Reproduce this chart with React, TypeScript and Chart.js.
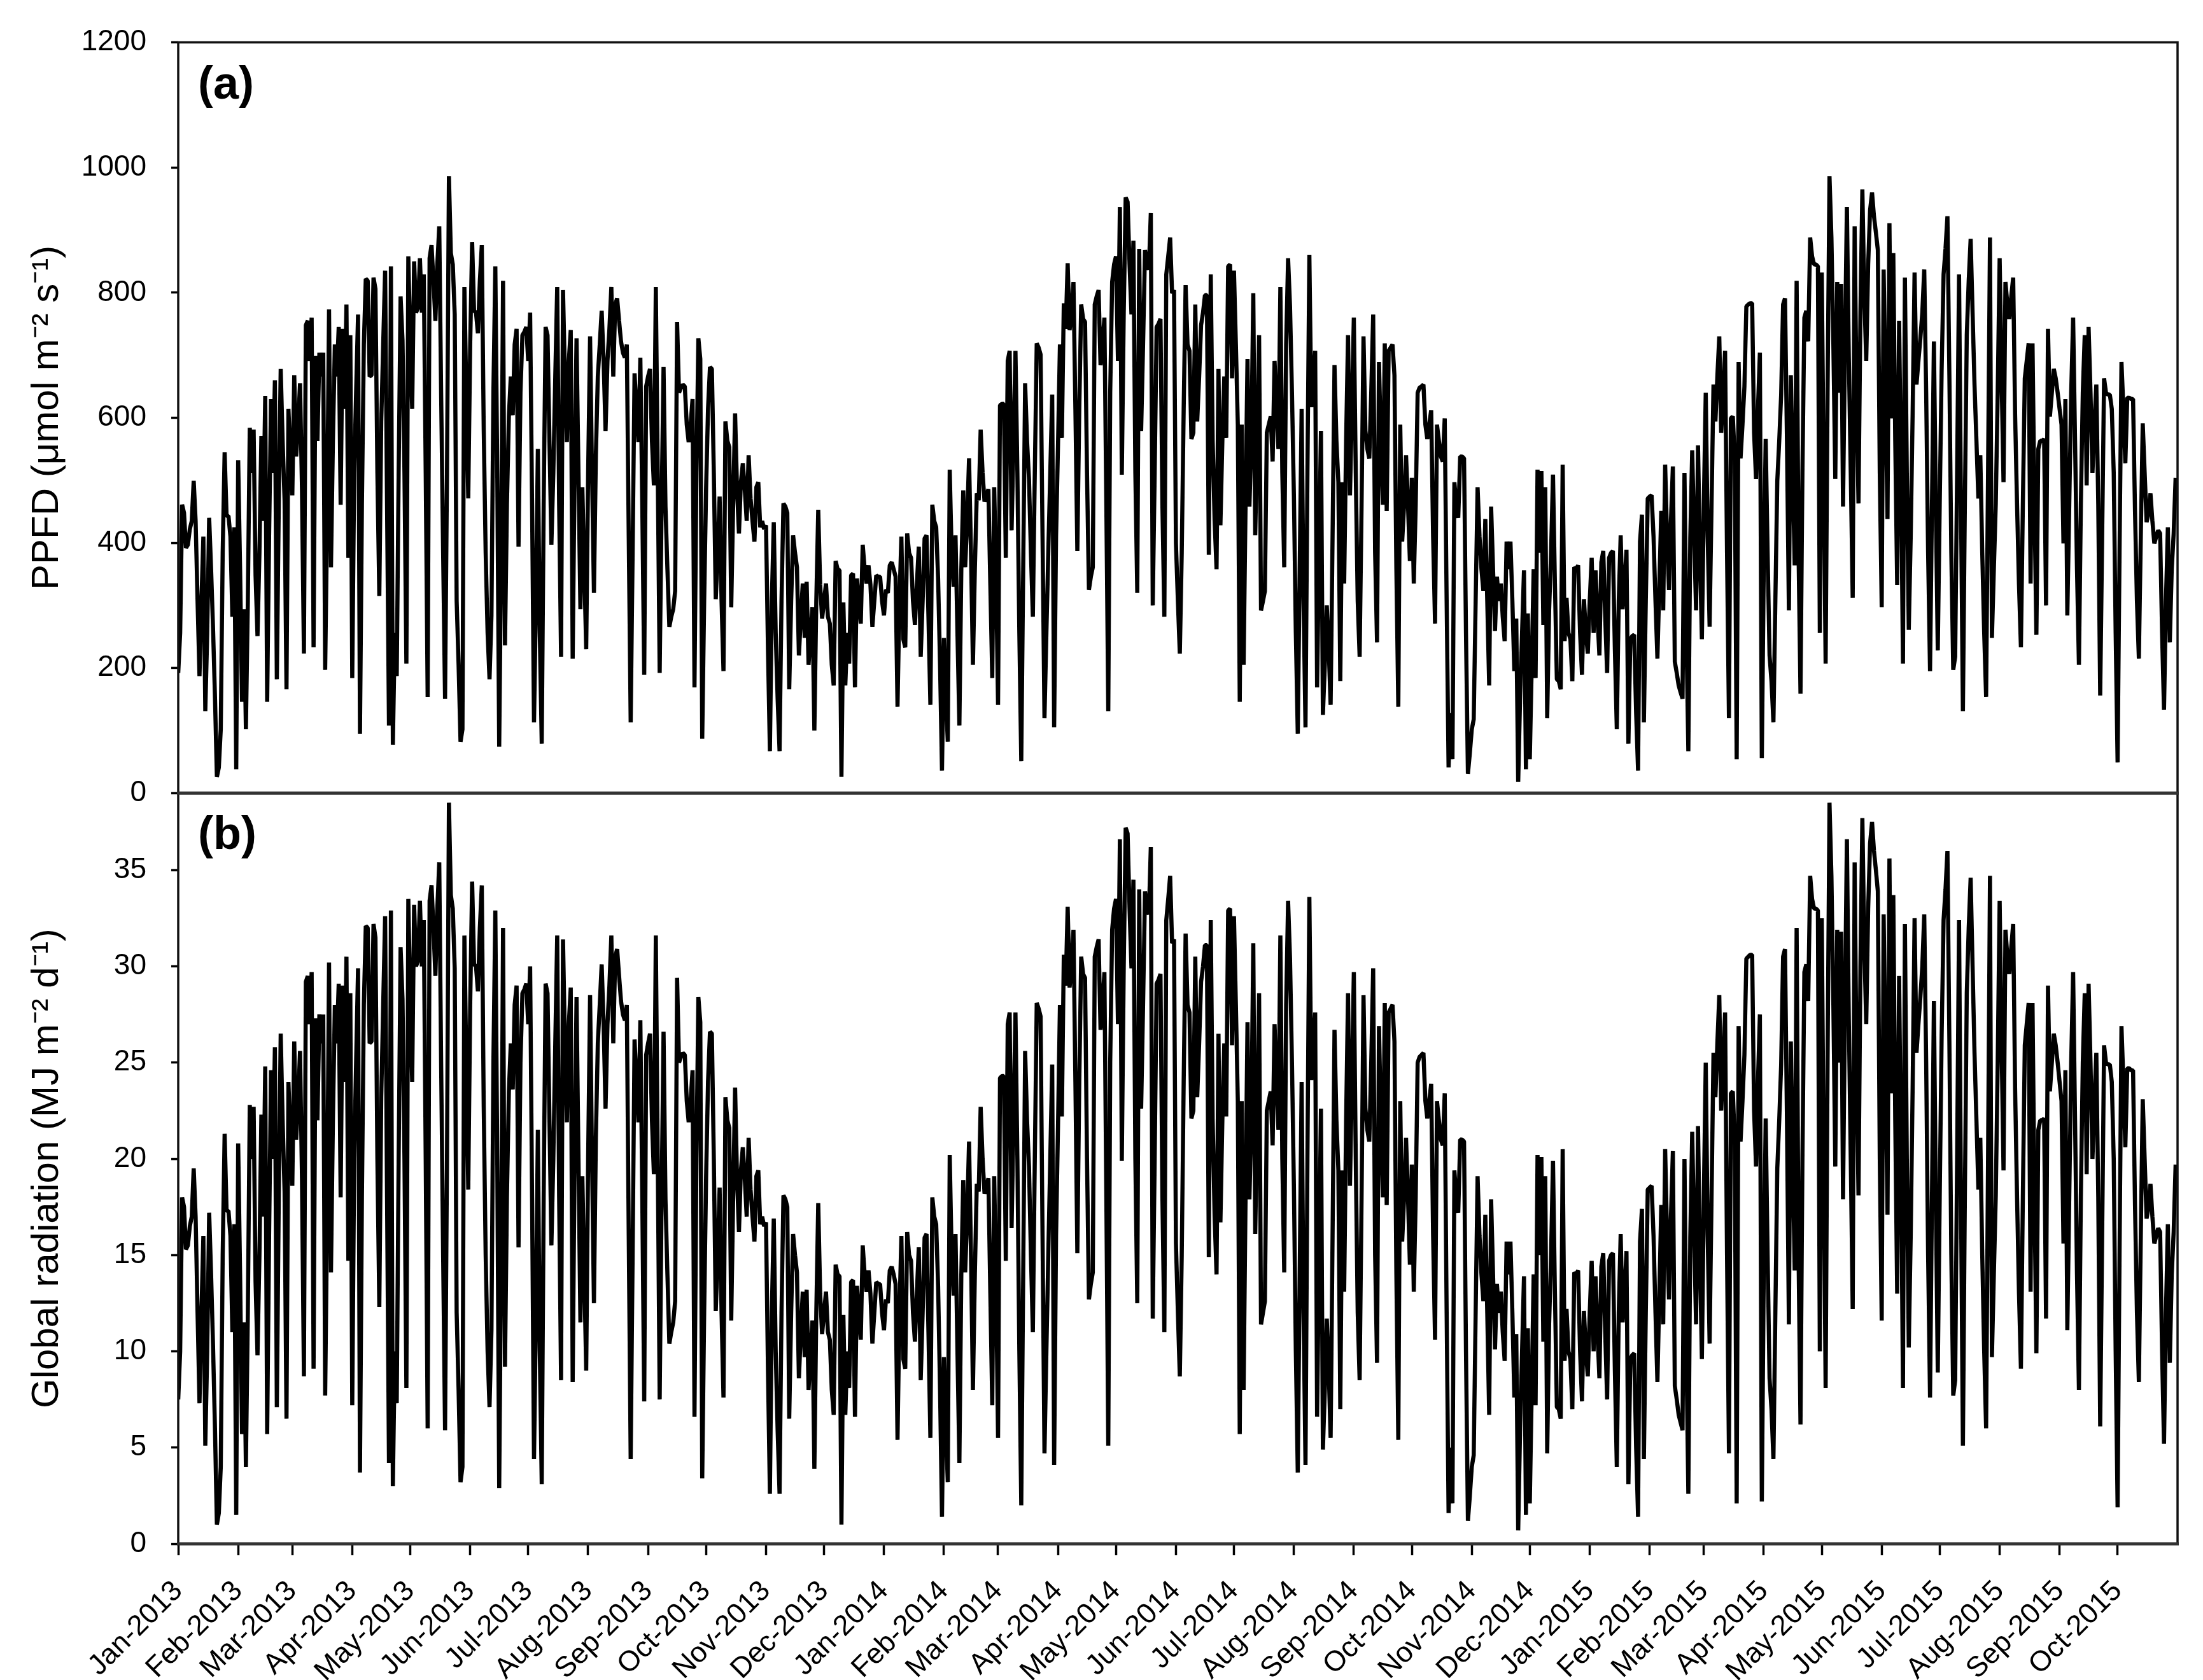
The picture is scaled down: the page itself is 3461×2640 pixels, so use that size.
import React, { useEffect, useRef } from 'react';
import { Chart, registerables } from 'chart.js';

Chart.register(...registerables);

// Month tick positions (day index from 1 Jan 2013) and their labels
const monthTickDays = [
  0, 31, 59, 90, 120, 151, 181, 212, 243, 273, 304, 334,
  365, 396, 424, 455, 485, 516, 546, 577, 608, 638, 669, 699,
  730, 761, 789, 820, 850, 881, 911, 942, 973, 1003,
];
const monthTickLabels = [
  'Jan-2013', 'Feb-2013', 'Mar-2013', 'Apr-2013', 'May-2013', 'Jun-2013', 'Jul-2013', 'Aug-2013', 'Sep-2013', 'Oct-2013', 'Nov-2013', 'Dec-2013',
  'Jan-2014', 'Feb-2014', 'Mar-2014', 'Apr-2014', 'May-2014', 'Jun-2014', 'Jul-2014', 'Aug-2014', 'Sep-2014', 'Oct-2014', 'Nov-2014', 'Dec-2014',
  'Jan-2015', 'Feb-2015', 'Mar-2015', 'Apr-2015', 'May-2015', 'Jun-2015', 'Jul-2015', 'Aug-2015', 'Sep-2015', 'Oct-2015',
];
const xAxisEnd = 1034;

const ppfdTicks = [0, 200, 400, 600, 800, 1000, 1200];
const grTicks = [0, 5, 10, 15, 20, 25, 30, 35];
const ppfdMax = 1200;
const grMax = 39;

const panelLabels = ['(a)', '(b)'];
const ppfdTitle = 'PPFD (μmol m⁻² s⁻¹)';
const grTitle = 'Global radiation (MJ m⁻² d⁻¹)';

// Daily mean PPFD (µmol m-2 s-1), 1 Jan 2013 – 31 Oct 2015
const ppfd = [
  192, 256, 461, 448, 392, 397, 422, 435, 499, 435,
  307, 187, 307, 410, 131, 256, 440, 358, 264, 154,
  26, 41, 102, 384, 545, 443, 443, 410, 282, 425,
  38, 532, 358, 146, 294, 102, 307, 584, 512, 581,
  348, 251, 384, 571, 435, 635, 146, 410, 630, 512,
  660, 182, 461, 678, 563, 468, 166, 614, 538, 476,
  668, 538, 589, 655, 486, 223, 748, 755, 691, 760,
  233, 699, 563, 704, 666, 704, 197, 438, 773, 361,
  563, 717, 666, 745, 461, 742, 614, 781, 376, 732,
  184, 512, 640, 765, 95, 461, 717, 822, 819, 666,
  668, 824, 806, 512, 315, 594, 717, 835, 461, 108,
  842, 77, 256, 187, 512, 794, 724, 512, 207, 858,
  717, 614, 850, 768, 776, 855, 768, 829, 512, 154,
  855, 876, 819, 755, 845, 906, 632, 384, 151, 512,
  986, 863, 845, 765, 307, 205, 82, 102, 809, 640,
  471, 717, 881, 771, 768, 735, 819, 876, 581, 384,
  256, 182, 284, 640, 842, 512, 74, 384, 819, 236,
  461, 602, 666, 604, 717, 742, 394, 640, 732, 737,
  745, 691, 768, 461, 113, 307, 550, 256, 79, 461,
  745, 732, 563, 397, 512, 666, 809, 461, 218, 804,
  666, 561, 691, 740, 215, 512, 727, 512, 294, 489,
  358, 230, 512, 730, 512, 320, 540, 666, 717, 771,
  691, 579, 691, 742, 809, 666, 781, 791, 755, 722,
  704, 696, 717, 410, 113, 384, 671, 614, 561, 696,
  461, 189, 650, 666, 678, 563, 492, 809, 512, 192,
  461, 681, 458, 358, 266, 282, 294, 323, 753, 640,
  648, 653, 650, 589, 561, 589, 630, 169, 512, 727,
  694, 87, 307, 486, 614, 681, 678, 512, 310, 384,
  474, 307, 195, 594, 563, 553, 297, 461, 607, 486,
  415, 497, 527, 486, 435, 540, 471, 435, 402, 489,
  497, 425, 435, 422, 428, 230, 67, 307, 433, 256,
  151, 67, 307, 463, 458, 448, 166, 307, 412, 384,
  361, 220, 282, 335, 248, 338, 205, 256, 297, 100,
  307, 453, 333, 279, 307, 335, 282, 271, 205, 172,
  371, 358, 356, 26, 305, 172, 256, 207, 348, 351,
  169, 343, 307, 271, 397, 358, 335, 364, 333, 266,
  307, 348, 346, 346, 307, 284, 325, 320, 364, 369,
  358, 346, 138, 307, 410, 246, 233, 415, 384, 376,
  307, 269, 333, 394, 218, 307, 407, 412, 282, 141,
  461, 435, 425, 343, 205, 36, 248, 154, 82, 517,
  384, 330, 412, 256, 108, 358, 484, 361, 435, 535,
  384, 205, 358, 479, 468, 581, 512, 466, 474, 486,
  333, 184, 489, 346, 141, 620, 622, 622, 376, 691,
  707, 420, 563, 707, 512, 256, 51, 358, 655, 563,
  502, 384, 282, 512, 719, 712, 701, 410, 120, 256,
  387, 512, 637, 105, 410, 556, 717, 568, 783, 742,
  847, 740, 768, 817, 614, 387, 614, 781, 758, 753,
  512, 325, 346, 361, 781, 794, 804, 684, 717, 760,
  461, 131, 640, 817, 845, 858, 691, 937, 509, 768,
  952, 945, 845, 765, 883, 512, 320, 870, 579, 717,
  868, 845, 837, 927, 300, 512, 745, 750, 758, 461,
  282, 829, 858, 888, 799, 804, 399, 307, 223, 384,
  614, 812, 717, 707, 566, 576, 781, 594, 666, 748,
  768, 796, 796, 381, 829, 563, 435, 358, 678, 428,
  563, 666, 568, 842, 845, 663, 835, 717, 589, 146,
  589, 205, 461, 694, 458, 563, 799, 412, 563, 732,
  292, 307, 323, 576, 589, 602, 530, 691, 614, 550,
  809, 512, 361, 717, 855, 778, 640, 476, 256, 95,
  358, 614, 307, 105, 512, 860, 617, 666, 707, 169,
  384, 579, 125, 205, 300, 230, 141, 410, 684, 563,
  497, 179, 497, 335, 563, 732, 476, 614, 760, 512,
  307, 218, 461, 730, 579, 550, 535, 640, 765, 384,
  241, 689, 563, 461, 719, 451, 707, 712, 717, 668,
  358, 138, 589, 402, 461, 540, 461, 371, 504, 335,
  461, 640, 648, 650, 653, 589, 566, 589, 612, 410,
  271, 589, 563, 538, 530, 599, 307, 41, 128, 54,
  497, 461, 440, 538, 538, 535, 256, 31, 64, 102,
  118, 307, 489, 410, 358, 323, 438, 307, 172, 458,
  358, 259, 346, 307, 335, 282, 243, 402, 358, 402,
  307, 195, 279, 18, 154, 256, 356, 38, 287, 54,
  205, 358, 184, 517, 384, 515, 269, 489, 120, 292,
  384, 509, 333, 182, 179, 166, 525, 243, 312, 256,
  246, 179, 361, 358, 364, 256, 189, 310, 256, 223,
  307, 376, 256, 356, 282, 220, 369, 387, 282, 192,
  376, 384, 387, 230, 102, 307, 412, 294, 333, 389,
  79, 246, 251, 253, 128, 36, 402, 445, 113, 307,
  471, 474, 476, 410, 307, 215, 333, 451, 292, 525,
  410, 325, 435, 522, 210, 192, 172, 161, 151, 512,
  256, 67, 407, 548, 410, 292, 556, 384, 246, 461,
  640, 410, 266, 461, 653, 594, 666, 730, 576, 640,
  707, 384, 120, 599, 602, 535, 54, 689, 535, 589,
  650, 778, 781, 783, 783, 576, 502, 614, 704, 56,
  358, 566, 384, 220, 179, 113, 307, 499, 563, 637,
  781, 791, 563, 292, 668, 512, 364, 819, 384, 159,
  512, 760, 771, 722, 888, 858, 845, 845, 842, 256,
  832, 512, 207, 640, 986, 888, 717, 502, 817, 640,
  814, 458, 717, 937, 696, 512, 312, 906, 640, 463,
  768, 965, 796, 691, 845, 932, 960, 922, 896, 868,
  512, 297, 837, 640, 438, 911, 599, 863, 563, 333,
  755, 512, 207, 824, 512, 261, 410, 607, 832, 653,
  691, 727, 768, 837, 640, 384, 195, 461, 722, 461,
  228, 461, 676, 829, 870, 922, 668, 384, 197, 218,
  512, 829, 461, 131, 461, 732, 819, 886, 768, 653,
  563, 471, 540, 384, 256, 154, 512, 888, 248, 358,
  463, 640, 855, 666, 497, 817, 781, 758, 794, 824,
  604, 461, 333, 233, 461, 663, 691, 719, 335, 719,
  461, 253, 550, 563, 563, 566, 300, 742, 602, 640,
  678, 663, 640, 614, 589, 399, 630, 284, 461, 640,
  760, 563, 358, 205, 461, 640, 732, 492, 745, 640,
  512, 589, 653, 461, 156, 407, 663, 640, 637, 637,
  614, 512, 256, 49, 384, 689, 614, 527, 632, 632,
  630, 630, 451, 307, 215, 410, 591, 512, 433, 448,
  479, 435, 399, 410, 420, 415, 256, 133, 307, 425,
  241, 358, 415, 504,
];

// Daily global radiation (MJ m-2 d-1), 1 Jan 2013 – 31 Oct 2015
const globalRadiation = [
  7.5, 10, 18, 17.5, 15.3, 15.5, 16.5, 17, 19.5, 17,
  12, 7.3, 12, 16, 5.1, 10, 17.2, 14, 10.3, 6,
  1, 1.6, 4, 15, 21.3, 17.3, 17.3, 16, 11, 16.6,
  1.5, 20.8, 14, 5.7, 11.5, 4, 12, 22.8, 20, 22.7,
  13.6, 9.8, 15, 22.3, 17, 24.8, 5.7, 16, 24.6, 20,
  25.8, 7.1, 18, 26.5, 22, 18.3, 6.5, 24, 21, 18.6,
  26.1, 21, 23, 25.6, 19, 8.7, 29.2, 29.5, 27, 29.7,
  9.1, 27.3, 22, 27.5, 26, 27.5, 7.7, 17.1, 30.2, 14.1,
  22, 28, 26, 29.1, 18, 29, 24, 30.5, 14.7, 28.6,
  7.2, 20, 25, 29.9, 3.7, 18, 28, 32.1, 32, 26,
  26.1, 32.2, 31.5, 20, 12.3, 23.2, 28, 32.6, 18, 4.2,
  32.9, 3, 10, 7.3, 20, 31, 28.3, 20, 8.1, 33.5,
  28, 24, 33.2, 30, 30.3, 33.4, 30, 32.4, 20, 6,
  33.4, 34.2, 32, 29.5, 33, 35.4, 24.7, 15, 5.9, 20,
  38.5, 33.7, 33, 29.9, 12, 8, 3.2, 4, 31.6, 25,
  18.4, 28, 34.4, 30.1, 30, 28.7, 32, 34.2, 22.7, 15,
  10, 7.1, 11.1, 25, 32.9, 20, 2.9, 15, 32, 9.2,
  18, 23.5, 26, 23.6, 28, 29, 15.4, 25, 28.6, 28.8,
  29.1, 27, 30, 18, 4.4, 12, 21.5, 10, 3.1, 18,
  29.1, 28.6, 22, 15.5, 20, 26, 31.6, 18, 8.5, 31.4,
  26, 21.9, 27, 28.9, 8.4, 20, 28.4, 20, 11.5, 19.1,
  14, 9, 20, 28.5, 20, 12.5, 21.1, 26, 28, 30.1,
  27, 22.6, 27, 29, 31.6, 26, 30.5, 30.9, 29.5, 28.2,
  27.5, 27.2, 28, 16, 4.4, 15, 26.2, 24, 21.9, 27.2,
  18, 7.4, 25.4, 26, 26.5, 22, 19.2, 31.6, 20, 7.5,
  18, 26.6, 17.9, 14, 10.4, 11, 11.5, 12.6, 29.4, 25,
  25.3, 25.5, 25.4, 23, 21.9, 23, 24.6, 6.6, 20, 28.4,
  27.1, 3.4, 12, 19, 24, 26.6, 26.5, 20, 12.1, 15,
  18.5, 12, 7.6, 23.2, 22, 21.6, 11.6, 18, 23.7, 19,
  16.2, 19.4, 20.6, 19, 17, 21.1, 18.4, 17, 15.7, 19.1,
  19.4, 16.6, 17, 16.5, 16.7, 9, 2.6, 12, 16.9, 10,
  5.9, 2.6, 12, 18.1, 17.9, 17.5, 6.5, 12, 16.1, 15,
  14.1, 8.6, 11, 13.1, 9.7, 13.2, 8, 10, 11.6, 3.9,
  12, 17.7, 13, 10.9, 12, 13.1, 11, 10.6, 8, 6.7,
  14.5, 14, 13.9, 1, 11.9, 6.7, 10, 8.1, 13.6, 13.7,
  6.6, 13.4, 12, 10.6, 15.5, 14, 13.1, 14.2, 13, 10.4,
  12, 13.6, 13.5, 13.5, 12, 11.1, 12.7, 12.5, 14.2, 14.4,
  14, 13.5, 5.4, 12, 16, 9.6, 9.1, 16.2, 15, 14.7,
  12, 10.5, 13, 15.4, 8.5, 12, 15.9, 16.1, 11, 5.5,
  18, 17, 16.6, 13.4, 8, 1.4, 9.7, 6, 3.2, 20.2,
  15, 12.9, 16.1, 10, 4.2, 14, 18.9, 14.1, 17, 20.9,
  15, 8, 14, 18.7, 18.3, 22.7, 20, 18.2, 18.5, 19,
  13, 7.2, 19.1, 13.5, 5.5, 24.2, 24.3, 24.3, 14.7, 27,
  27.6, 16.4, 22, 27.6, 20, 10, 2, 14, 25.6, 22,
  19.6, 15, 11, 20, 28.1, 27.8, 27.4, 16, 4.7, 10,
  15.1, 20, 24.9, 4.1, 16, 21.7, 28, 22.2, 30.6, 29,
  33.1, 28.9, 30, 31.9, 24, 15.1, 24, 30.5, 29.6, 29.4,
  20, 12.7, 13.5, 14.1, 30.5, 31, 31.4, 26.7, 28, 29.7,
  18, 5.1, 25, 31.9, 33, 33.5, 27, 36.6, 19.9, 30,
  37.2, 36.9, 33, 29.9, 34.5, 20, 12.5, 34, 22.6, 28,
  33.9, 33, 32.7, 36.2, 11.7, 20, 29.1, 29.3, 29.6, 18,
  11, 32.4, 33.5, 34.7, 31.2, 31.4, 15.6, 12, 8.7, 15,
  24, 31.7, 28, 27.6, 22.1, 22.5, 30.5, 23.2, 26, 29.2,
  30, 31.1, 31.1, 14.9, 32.4, 22, 17, 14, 26.5, 16.7,
  22, 26, 22.2, 32.9, 33, 25.9, 32.6, 28, 23, 5.7,
  23, 8, 18, 27.1, 17.9, 22, 31.2, 16.1, 22, 28.6,
  11.4, 12, 12.6, 22.5, 23, 23.5, 20.7, 27, 24, 21.5,
  31.6, 20, 14.1, 28, 33.4, 30.4, 25, 18.6, 10, 3.7,
  14, 24, 12, 4.1, 20, 33.6, 24.1, 26, 27.6, 6.6,
  15, 22.6, 4.9, 8, 11.7, 9, 5.5, 16, 26.7, 22,
  19.4, 7, 19.4, 13.1, 22, 28.6, 18.6, 24, 29.7, 20,
  12, 8.5, 18, 28.5, 22.6, 21.5, 20.9, 25, 29.9, 15,
  9.4, 26.9, 22, 18, 28.1, 17.6, 27.6, 27.8, 28, 26.1,
  14, 5.4, 23, 15.7, 18, 21.1, 18, 14.5, 19.7, 13.1,
  18, 25, 25.3, 25.4, 25.5, 23, 22.1, 23, 23.9, 16,
  10.6, 23, 22, 21, 20.7, 23.4, 12, 1.6, 5, 2.1,
  19.4, 18, 17.2, 21, 21, 20.9, 10, 1.2, 2.5, 4,
  4.6, 12, 19.1, 16, 14, 12.6, 17.1, 12, 6.7, 17.9,
  14, 10.1, 13.5, 12, 13.1, 11, 9.5, 15.7, 14, 15.7,
  12, 7.6, 10.9, 0.7, 6, 10, 13.9, 1.5, 11.2, 2.1,
  8, 14, 7.2, 20.2, 15, 20.1, 10.5, 19.1, 4.7, 11.4,
  15, 19.9, 13, 7.1, 7, 6.5, 20.5, 9.5, 12.2, 10,
  9.6, 7, 14.1, 14, 14.2, 10, 7.4, 12.1, 10, 8.7,
  12, 14.7, 10, 13.9, 11, 8.6, 14.4, 15.1, 11, 7.5,
  14.7, 15, 15.1, 9, 4, 12, 16.1, 11.5, 13, 15.2,
  3.1, 9.6, 9.8, 9.9, 5, 1.4, 15.7, 17.4, 4.4, 12,
  18.4, 18.5, 18.6, 16, 12, 8.4, 13, 17.6, 11.4, 20.5,
  16, 12.7, 17, 20.4, 8.2, 7.5, 6.7, 6.3, 5.9, 20,
  10, 2.6, 15.9, 21.4, 16, 11.4, 21.7, 15, 9.6, 18,
  25, 16, 10.4, 18, 25.5, 23.2, 26, 28.5, 22.5, 25,
  27.6, 15, 4.7, 23.4, 23.5, 20.9, 2.1, 26.9, 20.9, 23,
  25.4, 30.4, 30.5, 30.6, 30.6, 22.5, 19.6, 24, 27.5, 2.2,
  14, 22.1, 15, 8.6, 7, 4.4, 12, 19.5, 22, 24.9,
  30.5, 30.9, 22, 11.4, 26.1, 20, 14.2, 32, 15, 6.2,
  20, 29.7, 30.1, 28.2, 34.7, 33.5, 33, 33, 32.9, 10,
  32.5, 20, 8.1, 25, 38.5, 34.7, 28, 19.6, 31.9, 25,
  31.8, 17.9, 28, 36.6, 27.2, 20, 12.2, 35.4, 25, 18.1,
  30, 37.7, 31.1, 27, 33, 36.4, 37.5, 36, 35, 33.9,
  20, 11.6, 32.7, 25, 17.1, 35.6, 23.4, 33.7, 22, 13,
  29.5, 20, 8.1, 32.2, 20, 10.2, 16, 23.7, 32.5, 25.5,
  27, 28.4, 30, 32.7, 25, 15, 7.6, 18, 28.2, 18,
  8.9, 18, 26.4, 32.4, 34, 36, 26.1, 15, 7.7, 8.5,
  20, 32.4, 18, 5.1, 18, 28.6, 32, 34.6, 30, 25.5,
  22, 18.4, 21.1, 15, 10, 6, 20, 34.7, 9.7, 14,
  18.1, 25, 33.4, 26, 19.4, 31.9, 30.5, 29.6, 31, 32.2,
  23.6, 18, 13, 9.1, 18, 25.9, 27, 28.1, 13.1, 28.1,
  18, 9.9, 21.5, 22, 22, 22.1, 11.7, 29, 23.5, 25,
  26.5, 25.9, 25, 24, 23, 15.6, 24.6, 11.1, 18, 25,
  29.7, 22, 14, 8, 18, 25, 28.6, 19.2, 29.1, 25,
  20, 23, 25.5, 18, 6.1, 15.9, 25.9, 25, 24.9, 24.9,
  24, 20, 10, 1.9, 15, 26.9, 24, 20.6, 24.7, 24.7,
  24.6, 24.6, 17.6, 12, 8.4, 16, 23.1, 20, 16.9, 17.5,
  18.7, 17, 15.6, 16, 16.4, 16.2, 10, 5.2, 12, 16.6,
  9.4, 14, 16.2, 19.7,
];

const FONT = '"Liberation Sans", Arial, Helvetica, sans-serif';
const W = 3461;
const H = 2640;

export default function App() {
  const ref = useRef<HTMLCanvasElement>(null);

  useEffect(() => {
    const canvas = ref.current;
    if (!canvas) return;

    const framePlugin = {
      id: 'panelFrames',
      afterDraw(chart: any) {
        const { ctx, chartArea } = chart;
        const a = chart.scales.yA;
        const b = chart.scales.yB;
        const left = chartArea.left;
        const right = chartArea.right;
        ctx.save();
        ctx.strokeStyle = '#111';
        ctx.lineWidth = 3.5;
        ctx.strokeRect(left, a.top, right - left, a.bottom - a.top);
        ctx.strokeRect(left, b.top, right - left, b.bottom - b.top);
        ctx.strokeStyle = '#333';
        ctx.lineWidth = 5;
        ctx.beginPath();
        ctx.moveTo(left - 2, a.bottom);
        ctx.lineTo(right + 2, a.bottom);
        ctx.moveTo(left - 2, b.bottom);
        ctx.lineTo(right + 2, b.bottom);
        ctx.stroke();
        ctx.fillStyle = '#000';
        ctx.font = `bold 72px ${FONT}`;
        ctx.textBaseline = 'alphabetic';
        ctx.textAlign = 'left';
        ctx.fillText(panelLabels[0], left + 31, a.top + 88);
        ctx.fillText(panelLabels[1], left + 31, b.top + 88);
        ctx.restore();
      },
    };

    const lineStyle = {
      borderColor: '#000',
      borderWidth: 6.5,
      pointRadius: 0,
      tension: 0,
      fill: false,
      borderJoinStyle: 'bevel' as const,
      borderCapStyle: 'butt' as const,
    };

    const yGrid = {
      display: true,
      drawOnChartArea: false,
      drawTicks: true,
      tickLength: 11,
      tickWidth: 3.5,
      tickColor: '#000',
      color: '#000',
    };

    const chart = new Chart(canvas, {
      type: 'line',
      data: {
        datasets: [
          {
            label: 'PPFD',
            data: ppfd.map((y, i) => ({ x: i, y })),
            yAxisID: 'yA',
            xAxisID: 'x',
            ...lineStyle,
          },
          {
            label: 'Global radiation',
            data: globalRadiation.map((y, i) => ({ x: i, y })),
            yAxisID: 'yB',
            xAxisID: 'x',
            ...lineStyle,
          },
        ],
      },
      options: {
        responsive: false,
        maintainAspectRatio: false,
        animation: false,
        devicePixelRatio: 1,
        layout: { padding: { top: 62, right: 40, bottom: 0, left: 0 } },
        plugins: {
          legend: { display: false },
          tooltip: { enabled: false },
          title: { display: false },
        },
        scales: {
          x: {
            type: 'linear',
            position: 'bottom',
            min: 0,
            max: xAxisEnd,
            afterBuildTicks: (s: any) => {
              s.ticks = monthTickDays.map((v) => ({ value: v }));
            },
            afterFit: (s: any) => {
              s.height = H - 2426;
            },
            grid: {
              display: true,
              drawOnChartArea: false,
              drawTicks: true,
              tickLength: 18,
              tickWidth: 3.5,
              tickColor: '#000',
              color: '#000',
            },
            border: { display: false },
            ticks: {
              autoSkip: false,
              minRotation: 45,
              maxRotation: 45,
              padding: 30,
              color: '#000',
              font: { family: FONT, size: 45 },
              callback: (v: any) => {
                const i = monthTickDays.indexOf(Number(v));
                return i >= 0 ? monthTickLabels[i] : '';
              },
            },
          },
          yB: {
            type: 'linear',
            position: 'left',
            stack: 'panels',
            stackWeight: 1,
            weight: 0,
            min: 0,
            max: grMax,
            afterBuildTicks: (s: any) => {
              s.ticks = grTicks.map((v) => ({ value: v }));
            },
            afterFit: (s: any) => {
              s.width = 280;
            },
            grid: yGrid,
            border: { display: false },
            ticks: {
              padding: 39,
              color: '#000',
              font: { family: FONT, size: 46 },
              callback: (v: any) => String(v),
            },
            title: {
              display: true,
              text: grTitle,
              color: '#000',
              font: { family: FONT, size: 60 },
              padding: { top: 38, bottom: 0 },
            },
          },
          yA: {
            type: 'linear',
            position: 'left',
            stack: 'panels',
            stackWeight: 1,
            weight: 1,
            min: 0,
            max: ppfdMax,
            afterBuildTicks: (s: any) => {
              s.ticks = ppfdTicks.map((v) => ({ value: v }));
            },
            afterFit: (s: any) => {
              s.width = 280;
            },
            grid: yGrid,
            border: { display: false },
            ticks: {
              padding: 39,
              color: '#000',
              font: { family: FONT, size: 46 },
              callback: (v: any) => String(v),
            },
            title: {
              display: true,
              text: ppfdTitle,
              color: '#000',
              font: { family: FONT, size: 60 },
              padding: { top: 38, bottom: 0 },
            },
          },
        },
      } as any,
      plugins: [framePlugin],
    });

    return () => chart.destroy();
  }, []);

  return (
    <div style={{ position: 'absolute', left: 0, top: 0, width: W, height: H, background: '#fff' }}>
      <canvas ref={ref} width={W} height={H} style={{ display: 'block', width: W, height: H }} />
    </div>
  );
}
